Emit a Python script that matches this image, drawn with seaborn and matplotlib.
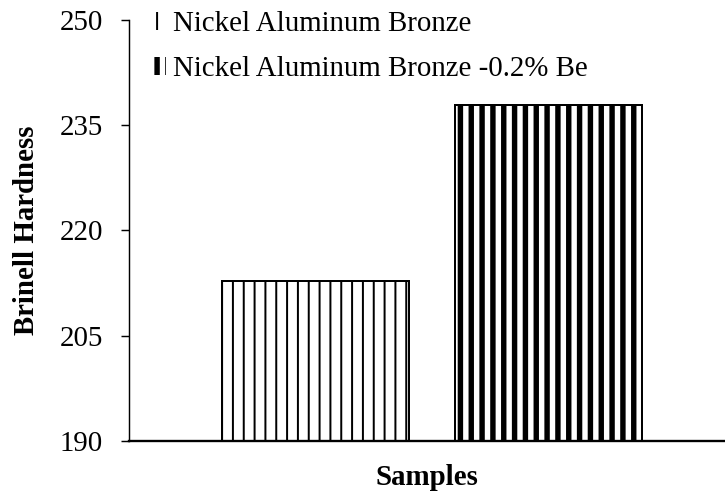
import pandas as pd
import matplotlib
matplotlib.use("Agg")
import matplotlib.pyplot as plt
from matplotlib.patches import Patch
import seaborn as sns

# datos
muestras = ["Nickel Aluminum Bronze", "Nickel Aluminum Bronze -0.2% Be"]
dureza = [212.8, 237.9]
tramas = ["||", "||"]
grosor_trama = [1.1, 3.0]
ticks_y = [190, 205, 220, 235, 250]

df = pd.DataFrame({"Muestra": muestras, "Dureza": dureza})

sns.set_theme(style="white")
plt.rcParams["font.family"] = ["Liberation Serif", "DejaVu Serif"]
plt.rcParams["hatch.color"] = "black"
for clave in ["text.color", "axes.labelcolor", "xtick.color", "ytick.color"]:
    plt.rcParams[clave] = "black"

DPI = 130
TAM = 16
fig = plt.figure(figsize=(725 / DPI, 494 / DPI), dpi=DPI)
ax = fig.add_axes([129 / 725, 1 - 441 / 494, 1 - 129 / 725, (441 - 20) / 494])

sns.barplot(data=df, x="Muestra", y="Dureza", hue="Muestra",
            palette=["white", "white"], width=0.804, ax=ax, legend=False,
            edgecolor="black", linewidth=1.1)

for p, h, lw in zip(ax.patches, tramas, grosor_trama):
    p.set_hatch(h)
    if hasattr(p, "set_hatch_linewidth"):
        p.set_hatch_linewidth(lw)

ax.set_ylim(190, 250)
ax.set_xlim(-0.802, 1.761)
ax.set_yticks(ticks_y)
ax.set_yticklabels([str(t) for t in ticks_y], fontsize=TAM)
ax.set_xticks([])
ax.tick_params(axis="y", direction="out", length=4.4, width=0.8, color="black",
               labelcolor="black", pad=10, left=True)

for lado in ["top", "right"]:
    ax.spines[lado].set_visible(False)
ax.spines["left"].set_color("black")
ax.spines["left"].set_linewidth(0.8)
ax.spines["bottom"].set_color("black")
ax.spines["bottom"].set_linewidth(1.3)

ax.set_xlabel("Samples", fontsize=TAM, fontweight="bold", labelpad=12.5, color="black")
ax.set_ylabel("Brinell Hardness", fontsize=TAM, fontweight="bold", labelpad=11, color="black")

manijas = [Patch(facecolor="white", edgecolor="black", linewidth=0, hatch=h)
           for h in tramas]

leg = ax.legend(handles=manijas, labels=muestras, loc="upper left",
                bbox_to_anchor=(0.018, 1.048), frameon=False, fontsize=TAM,
                handlelength=0.5, handleheight=0.6, handletextpad=0.25,
                labelspacing=0.65, borderaxespad=0)
for t in leg.get_texts():
    t.set_color("black")
# grosor de la trama en las marcas de la leyenda
for m, lw in zip(leg.legend_handles, grosor_trama):
    if hasattr(m, "set_hatch_linewidth"):
        m.set_hatch_linewidth(lw)

fig.savefig("out.png", dpi=DPI)
